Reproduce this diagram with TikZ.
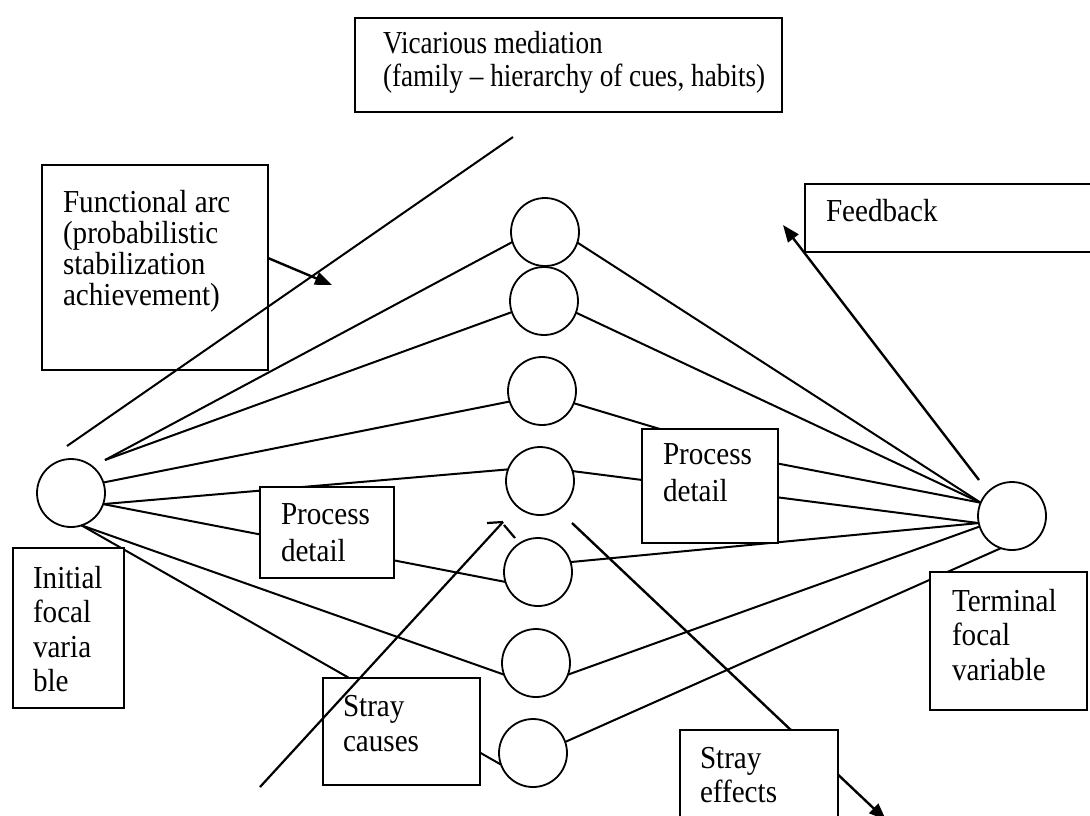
\documentclass[tikz,border=0pt]{standalone}
\usepackage{fontspec}
\setmainfont{Liberation Serif}[FakeStretch=0.91]
\newfontfamily\narrowfont{Liberation Serif}[FakeStretch=0.85]
\usetikzlibrary{arrows.meta,calc}
\newcommand\boxlines[2]{\parbox[t]{300pt}{\fontsize{16}{#1}\selectfont #2}}
\begin{document}
\begin{tikzpicture}[x=0.5pt,y=-0.5pt,
  every node/.style={inner sep=0pt, outer sep=0pt},
  circ/.style={draw, circle, minimum size=34pt, line width=0.9pt},
  box/.style={draw, fill=white, rectangle, line width=0.9pt, anchor=north west},
  lbl/.style={anchor=base west},
  link/.style={line width=1pt},
  ptr/.style={line width=1.2pt, -{Triangle[length=8.5pt,width=6.5pt]}},
]
\useasboundingbox (0,0) rectangle (1090,815);
\clip (0,0) rectangle (1090,815);

% circles
\node[circ] (init) at (71,493) {};
\node[circ] (c1) at (545,232) {};
\node[circ] (c2) at (544,301) {};
\node[circ] (c3) at (542,391) {};
\node[circ] (c4) at (540,481) {};
\node[circ] (c5) at (538,572) {};
\node[circ] (c6) at (536,663) {};
\node[circ] (c7) at (533,753) {};
\node[circ] (term) at (1012,516) {};

% free ends
\coordinate (i1) at (105,460);
\coordinate (p2in) at (770,462);
\coordinate (faL) at (67,446);
\coordinate (faR) at (513,137);
\coordinate (faTip) at (332,285);
\coordinate (fbTail) at (979,480);
\coordinate (fbTip) at (783,225);
\coordinate (scTail) at (260,787);
\coordinate (scTip) at (503,522);
\coordinate (seTail) at (572,523);
\coordinate (seTip) at (886,820);

% network lines (behind the boxes)
\draw[link] (i1) -- (c1.197);
\draw[link] (i1) -- (c2.199);
\draw[link] (init.18) -- (c3.198);
\draw[link] (init.341) -- (c4.160);
\draw[link] (init.341) -- (c5.197);
\draw[link] (init.288) -- (c6.200);
\draw[link] (init.288) -- (c7.200);

\draw[link] (c1.342) -- (term.157);
\draw[link] (c2.340) -- (term.157);
\draw[link] (c3.339) -- (p2in) -- (term.157);
\draw[link] (c4.17) -- (term.192);
\draw[link] (c5.17) -- (term.192);
\draw[link] (c6.340) -- (term.198);
\draw[link] (c7.19) -- (term.251);

\draw[ptr] (seTail) -- (seTip);

% boxes
\node[box, minimum width=213.5pt, minimum height=47pt] (vic) at (355,18) {};
\node[lbl] at (383,53) {\boxlines{16.5pt}{\narrowfont Vicarious mediation\\(family – hierarchy of cues, habits)}};

\node[box, minimum width=113pt, minimum height=102.5pt] (fa) at (42,165) {};
\node[lbl] at (63,212) {\boxlines{15.5pt}{Functional arc\\(probabilistic\\stabilization\\achievement)}};

\node[box, minimum width=152.5pt, minimum height=34pt] (fb) at (805,184) {};
\node[lbl] at (826,221) {\boxlines{16pt}{Feedback}};

\node[box, minimum width=67pt, minimum height=45.5pt] (pd1) at (260,487) {};
\node[lbl] at (281,524) {\boxlines{18.5pt}{Process\\detail}};

\node[box, minimum width=68pt, minimum height=57pt] (pd2) at (642,429) {};
\node[lbl] at (663,464) {\boxlines{18.5pt}{Process\\detail}};

\node[box, minimum width=55.5pt, minimum height=80pt] (ib) at (13,548) {};
\node[lbl] at (33,588) {\boxlines{17.3pt}{Initial\\focal\\varia\\ble}};

\node[box, minimum width=78.5pt, minimum height=69pt] (tb) at (930,572) {};
\node[lbl] at (952,611) {\boxlines{17.25pt}{Terminal\\focal\\variable}};

\node[box, minimum width=78.5pt, minimum height=53.5pt] (sc) at (323,678) {};
\node[lbl] at (343,716) {\boxlines{17.5pt}{Stray\\causes}};

\node[box, minimum width=79pt, minimum height=55pt] (se) at (680,730) {};
\node[lbl] at (700,768) {\boxlines{17pt}{Stray\\effects}};

% overlay lines
\draw[link] (faL) -- (faR);
\draw[ptr] ([yshift=4.75pt]fa.east) -- (faTip);
\draw[ptr] (fbTail) -- (fbTip);
\draw[line width=1.1pt] (scTail) -- (scTip);
\draw[line width=1.1pt] (scTip) -- ++(-16,1);
\draw[line width=1.1pt] ($(scTip)+(1,3)$) -- ++(11,13);
\end{tikzpicture}
\end{document}
